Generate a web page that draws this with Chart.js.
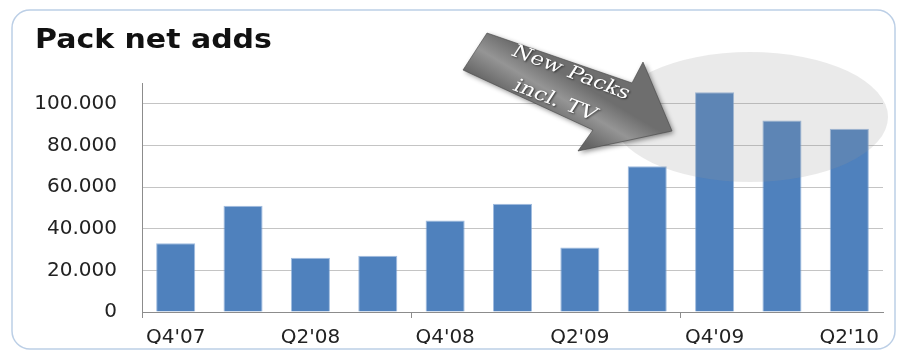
<!DOCTYPE html>
<html lang="en">
<head>
<meta charset="UTF-8">
<title>Pack net adds</title>
<script src="https://cdn.jsdelivr.net/npm/chart.js@4.4.1/dist/chart.umd.min.js"></script>
<style>
  html, body { margin: 0; padding: 0; background: #fff; }
  #packChart { display: block; }
</style>
</head>
<body>
<canvas id="packChart" width="897" height="352"></canvas>
<script>
// quarterly pack net adds
var quarters = ["Q4'07", "Q1'08", "Q2'08", "Q3'08", "Q4'08", "Q1'09", "Q2'09", "Q3'09", "Q4'09", "Q1'10", "Q2'10"];
var netAdds = [33000, 51000, 26000, 27000, 44000, 52000, 31000, 70000, 105500, 92000, 88000];
var yTicks = [0, 20000, 40000, 60000, 80000, 100000];
var titleText = 'Pack net adds';
var calloutLines = ['New Packs', 'incl. TV'];

function formatThousands(v) {
  return String(v).replace(/\B(?=(\d{3})+(?!\d))/g, '.');
}

// rounded frame + title
var framePlugin = {
  id: 'frame',
  beforeDraw: function(chart) {
    var ctx = chart.ctx;
    ctx.save();
    ctx.fillStyle = '#fff';
    ctx.fillRect(0, 0, chart.width, chart.height);
    ctx.strokeStyle = '#bccfe6';
    ctx.lineWidth = 1.5;
    ctx.beginPath();
    ctx.roundRect(12, 10, 883, 339, 18);
    ctx.stroke();
    // title is a little wide, stretch it sideways
    ctx.translate(35, 48);
    ctx.scale(1.11, 1);
    ctx.fillStyle = '#111';
    ctx.font = 'bold 27px "DejaVu Sans"';
    ctx.textBaseline = 'alphabetic';
    ctx.fillText(titleText, 0, 0);
    ctx.restore();
  }
};

// highlight ellipse over the latest quarters and the callout arrow
var calloutPlugin = {
  id: 'callout',
  afterDatasetsDraw: function(chart) {
    var ctx = chart.ctx;
    ctx.save();
    ctx.fillStyle = 'rgba(150,150,150,0.2)';
    ctx.beginPath();
    ctx.ellipse(750, 117, 138, 65, 0, 0, Math.PI * 2);
    ctx.fill();

    // arrow outline
    var pts = [[487, 33], [632, 83], [643, 62], [672, 131], [578, 151], [593, 130], [463, 70]];
    var grad = ctx.createLinearGradient(490, 30, 465, 72);
    grad.addColorStop(0, '#6e6e6e');
    grad.addColorStop(0.45, '#959595');
    grad.addColorStop(1, '#646464');
    ctx.shadowColor = 'rgba(0,0,0,0.45)';
    ctx.shadowBlur = 5;
    ctx.shadowOffsetX = 2;
    ctx.shadowOffsetY = 2;
    ctx.fillStyle = grad;
    ctx.beginPath();
    ctx.moveTo(pts[0][0], pts[0][1]);
    for (var i = 1; i < pts.length; i++) ctx.lineTo(pts[i][0], pts[i][1]);
    ctx.closePath();
    ctx.fill();
    ctx.shadowColor = 'transparent';
    ctx.strokeStyle = 'rgba(70,70,70,0.6)';
    ctx.lineWidth = 1;
    ctx.stroke();

    // callout text, two centred lines along the arrow
    var anchors = [[568, 77], [552, 105]];
    ctx.font = '18px "DejaVu Serif"';
    ctx.fillStyle = '#fff';
    ctx.textAlign = 'center';
    ctx.shadowColor = 'rgba(0,0,0,0.6)';
    ctx.shadowBlur = 2;
    ctx.shadowOffsetX = 1;
    ctx.shadowOffsetY = 1;
    for (var j = 0; j < calloutLines.length; j++) {
      ctx.save();
      ctx.translate(anchors[j][0], anchors[j][1]);
      ctx.scale(1.3, 1);
      ctx.rotate(26.5 * Math.PI / 180);
      ctx.fillText(calloutLines[j], 0, 0);
      ctx.restore();
    }
    ctx.restore();
  }
};

var config = {
  type: 'bar',
  data: {
    labels: quarters,
    datasets: [{
      label: titleText,
      data: netAdds,
      backgroundColor: '#4f81bd',
      borderColor: 'rgba(120,160,210,0.7)',
      borderWidth: 1,
      categoryPercentage: 1,
      barPercentage: 0.58
    }]
  },
  options: {
    responsive: false,
    animation: false,
    layout: { padding: { left: 12, right: 14, top: 83, bottom: 8 } },
    plugins: {
      legend: { display: false },
      tooltip: { enabled: false },
      title: { display: false }
    },
    scales: {
      x: {
        offset: true,
        grid: {
          offset: true,
          drawOnChartArea: false,
          tickLength: 6,
          color: function(c) { return (c.index % 4 === 0) ? '#8c8c8c' : 'transparent'; }
        },
        border: { color: '#8c8c8c', width: 1 },
        ticks: {
          autoSkip: false,
          maxRotation: 0,
          padding: 8,
          color: '#222',
          font: { family: 'DejaVu Sans', size: 20 },
          callback: function(v, i) { return i % 2 === 0 ? quarters[i] : ''; }
        },
        afterFit: function(scale) { scale.height = 32; }
      },
      y: {
        min: 0,
        max: 110000,
        afterBuildTicks: function(scale) {
          scale.ticks = yTicks.map(function(v) { return { value: v }; });
        },
        grid: { color: '#c4c4c4', drawTicks: false },
        border: { color: '#8c8c8c', width: 1 },
        ticks: {
          padding: 25,
          color: '#222',
          font: { family: 'DejaVu Sans', size: 20 },
          callback: function(v) { return formatThousands(v); }
        },
        afterFit: function(scale) { scale.width = 130; }
      }
    }
  },
  plugins: [framePlugin, calloutPlugin]
};

window.onload = function() {
  var ctx = document.getElementById('packChart').getContext('2d');
  window.packChart = new Chart(ctx, config);
};
</script>
</body>
</html>
